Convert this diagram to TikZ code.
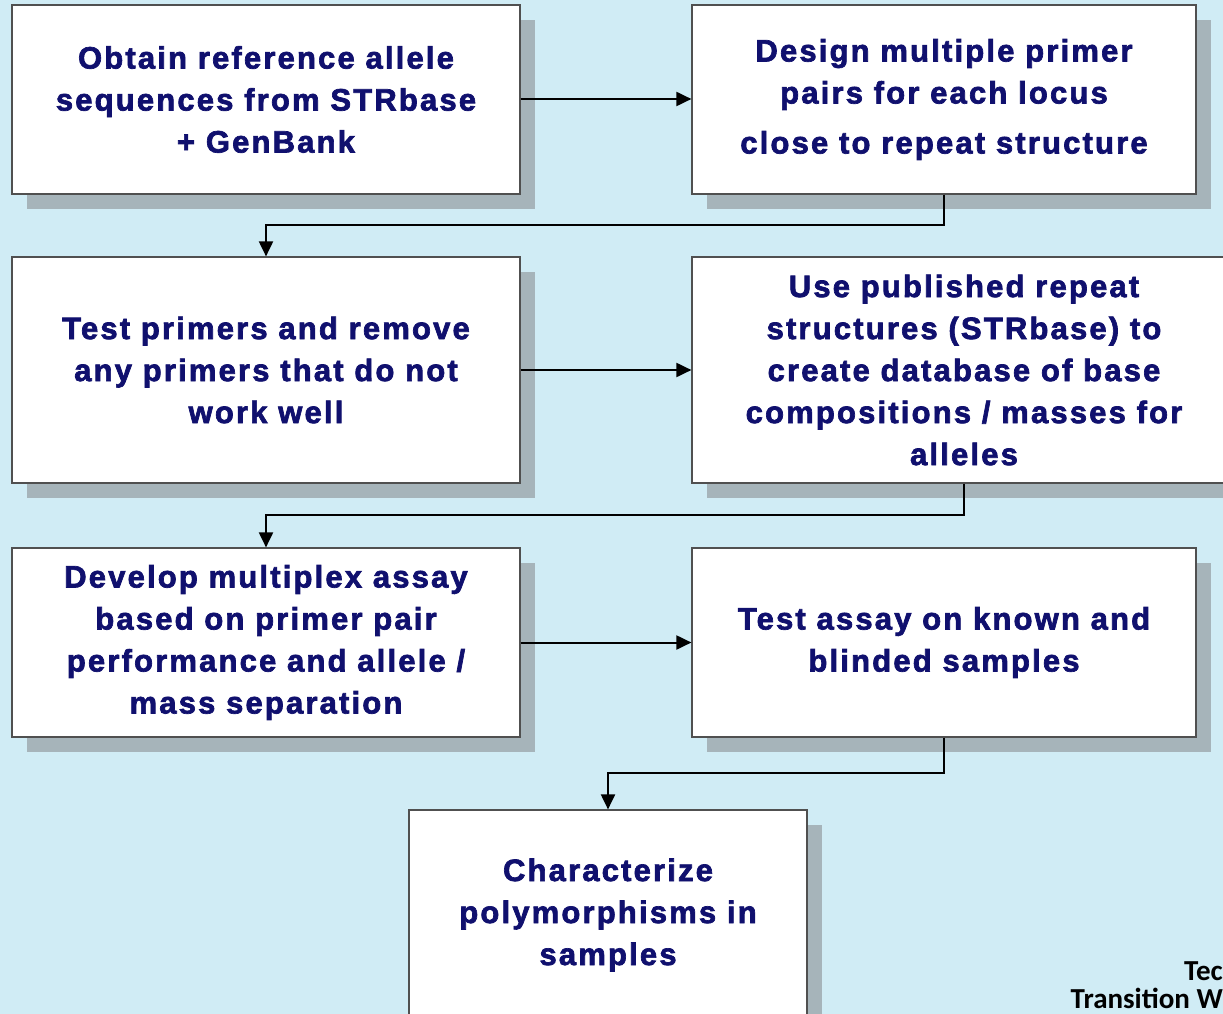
\documentclass[tikz,border=0pt]{standalone}
\usepackage{fontspec}
\setmainfont{Liberation Sans}
\newfontfamily\boxfont[LetterSpace=7,FakeBold=2.2]{Liberation Sans Bold}
\newfontfamily\notefont{Carlito}
\usetikzlibrary{arrows.meta,shadows,positioning}
\definecolor{bgblue}{RGB}{208,236,245}
\definecolor{shadowgray}{RGB}{166,180,186}
\definecolor{navytext}{RGB}{16,16,110}
\definecolor{boxline}{RGB}{80,80,80}
\tikzset{
  stepbox/.style={draw=boxline, line width=1.2pt, fill=white, inner sep=0pt,
    align=center, text=navytext, font=\boxfont\fontsize{31}{42}\selectfont,
    general shadow={fill=shadowgray, shadow xshift=15pt, shadow yshift=-15pt}},
  flow/.style={draw=black, line width=2pt, -{Triangle[length=15pt,width=14pt]}},
  note/.style={anchor=base east, inner sep=0pt, text=black, font=\notefont\fontsize{29}{36}\selectfont\bfseries}
}
\begin{document}
\begin{tikzpicture}[x=1pt,y=-1pt]
\useasboundingbox (0,0) rectangle (1223,1014);
\fill[bgblue] (0,0) rectangle (1223,1014);

\node[stepbox, minimum width=508pt, minimum height=189pt] (b1) at (266,99.5)
  {Obtain reference allele\\sequences from STRbase\\+ GenBank};
\node[stepbox, minimum width=504pt, minimum height=189pt] (b2) at (944,99.5)
  {Design multiple primer\\pairs for each locus\\[8pt]close to repeat structure};
\node[stepbox, minimum width=508pt, minimum height=226pt] (b3) at (266,370)
  {Test primers and remove\\any primers that do not\\work well};
\node[stepbox, minimum width=544pt, minimum height=226pt] (b4) at (964,370)
  {Use published repeat\\structures (STRbase) to\\create database of base\\compositions / masses for\\alleles};
\node[stepbox, minimum width=508pt, minimum height=189pt] (b5) at (266,642.5)
  {Develop multiplex assay\\based on primer pair\\performance and allele /\\mass separation};
\node[stepbox, minimum width=504pt, minimum height=189pt] (b6) at (944,642.5)
  {Test assay on known and\\blinded samples};
\node[stepbox, minimum width=398pt, minimum height=210pt] (b7) at (608,915)
  {Characterize\\polymorphisms in\\samples};

\coordinate (k1) at (944,225);
\coordinate (k2) at (964,515);
\coordinate (k3) at (944,773);

\draw[flow] (b1.east |- 0,99) -- (b2.west |- 0,99);
\draw[flow] (b2.south) -- (k1) -| (b3.north);
\draw[flow] (b3.east) -- (b4.west);
\draw[flow] (b4.south) -- (k2) -| (b5.north);
\draw[flow] (b5.east) -- (b6.west);
\draw[flow] (b6.south) -- (k3) -| (b7.north);

\node[note] (n1) at (1223,980) {Tec};
\node[note] (n2) at (1223,1008) {Transition W};
\end{tikzpicture}
\end{document}
